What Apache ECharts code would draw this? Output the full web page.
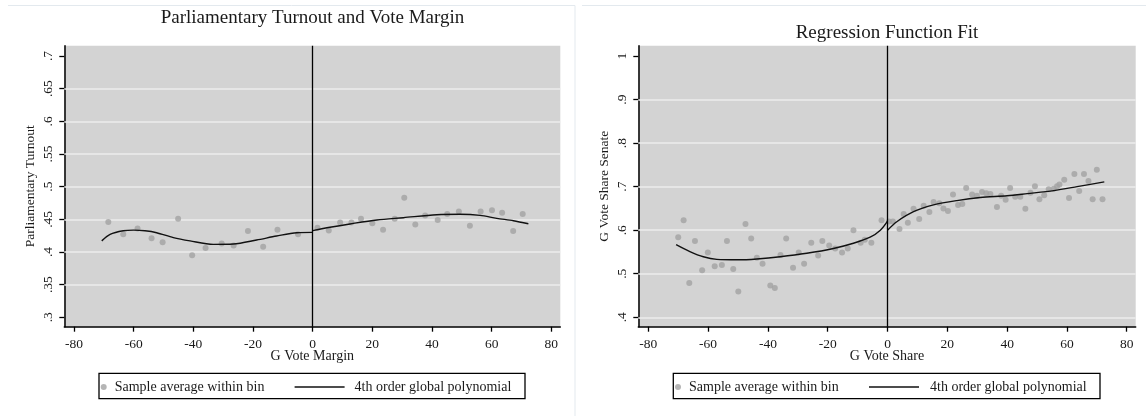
<!DOCTYPE html>
<html><head><meta charset="utf-8">
<script src="https://cdn.jsdelivr.net/npm/echarts@6/dist/echarts.min.js"></script>
<style>html,body{margin:0;padding:0;background:#fff}#c{width:1146px;height:416px}</style>
</head><body><div id="c"></div>
<script>
// ---- tick labels ----
const xTicks = [-80, -60, -40, -20, 0, 20, 40, 60, 80];
const leftYTicks = [0.3, 0.35, 0.4, 0.45, 0.5, 0.55, 0.6, 0.65, 0.7];
const leftGridVals = [0.35, 0.4, 0.45, 0.5, 0.55, 0.6, 0.65];
const rightYTicks = [0.4, 0.5, 0.6, 0.7, 0.8, 0.9, 1];
const rightGridVals = [0.4, 0.5, 0.6, 0.7, 0.8, 0.9];

// ---- texts ----
const leftTitle = 'Parliamentary Turnout and Vote Margin';
const rightTitle = 'Regression Function Fit';
const leftXName = 'G Vote Margin';
const leftYName = 'Parliamentary Turnout';
const rightXName = 'G Vote Share';
const rightYName = 'G Vote Share Senate';
const scatterName = 'Sample average within bin';
const fitName = '4th order global polynomial';

// ---- left chart data ----
const leftBinX = [-68.5,-63.5,-58.7,-54.0,-50.3,-45.1,-40.4,-35.9,-30.5,-26.5,-21.7,-16.6,-11.8,-4.9,1.6,5.4,9.2,13.0,16.2,20.0,23.6,27.5,30.7,34.4,37.7,41.9,45.1,49.0,52.7,56.3,60.1,63.5,67.2,70.4];
const leftBinY = [0.446,0.427,0.436,0.421,0.415,0.451,0.395,0.406,0.413,0.410,0.432,0.408,0.434,0.427,0.437,0.433,0.445,0.445,0.451,0.444,0.434,0.451,0.483,0.442,0.456,0.449,0.458,0.462,0.440,0.462,0.464,0.460,0.432,0.458];
const leftFitNegX = [-70.7,-67.9,-63.5,-60,-56.2,-52.3,-46.7,-41.1,-33.3,-26.6,-18.8,-12.1,-5.3,0];
const leftFitNegY = [0.417,0.427,0.4325,0.4335,0.4325,0.4295,0.422,0.417,0.4117,0.4122,0.4183,0.4244,0.4295,0.430];
const leftFitPosX = [0,5.8,12.5,21.5,30.4,41.6,49.4,56.1,61.7,67.3,72.3];
const leftFitPosY = [0.4327,0.4378,0.4429,0.449,0.4525,0.457,0.4577,0.4561,0.4515,0.4479,0.4433];

// ---- right chart data ----
const rightBinX = [-70.0,-68.2,-66.3,-64.4,-62.0,-60.1,-57.8,-55.4,-53.7,-51.6,-49.9,-47.5,-45.6,-43.7,-41.8,-39.2,-37.7,-35.8,-33.9,-31.6,-29.7,-27.9,-25.5,-23.2,-21.8,-19.5,-17.5,-15.2,-13.3,-11.4,-9.0,-7.6,-5.4,-2.0,0.5,1.8,4.0,5.4,6.8,8.7,10.6,12.1,14.0,15.4,17.3,18.7,20.2,21.9,23.6,25.0,26.3,28.3,29.9,31.6,33.0,34.4,36.6,38.0,39.5,41.0,42.7,44.4,46.1,47.8,49.3,50.8,52.4,53.9,55.6,56.7,57.5,59.1,60.7,62.5,64.1,65.7,67.2,68.6,70.0,71.9];
const rightBinY = [0.584,0.623,0.479,0.575,0.508,0.549,0.517,0.520,0.575,0.511,0.459,0.614,0.581,0.537,0.523,0.473,0.467,0.543,0.581,0.514,0.549,0.523,0.571,0.542,0.575,0.565,0.558,0.549,0.558,0.600,0.571,0.578,0.571,0.623,0.620,0.620,0.603,0.637,0.617,0.649,0.626,0.656,0.642,0.665,0.662,0.650,0.644,0.682,0.658,0.660,0.697,0.682,0.679,0.688,0.685,0.683,0.653,0.679,0.670,0.697,0.677,0.677,0.649,0.686,0.701,0.671,0.680,0.694,0.695,0.701,0.705,0.716,0.674,0.729,0.690,0.729,0.713,0.671,0.739,0.671];
const rightFitNegX = [-70.7,-66.1,-61.6,-57.1,-50,-43.7,-35.9,-27.0,-18.1,-11.4,-5.8,-2.4,0];
const rightFitNegY = [0.567,0.551,0.539,0.533,0.532,0.534,0.539,0.547,0.558,0.570,0.584,0.600,0.621];
const rightFitPosX = [0,3.1,8.7,15.4,23.2,31.0,40.0,46.7,55.6,63.4,72.5];
const rightFitPosY = [0.600,0.6195,0.6425,0.658,0.668,0.675,0.679,0.684,0.691,0.700,0.711];

const zip = (a, b) => a.map((v, i) => [v, b[i]]);
const FONT = 'Liberation Serif';
const TXT = '#1a1a1a';
const fmtY = v => (Math.abs(v - 1) < 1e-9 ? '1' : String(+v.toFixed(2)).replace(/^0/, ''));

const grids = [
  { left: 64.3, top: 45.7, width: 496, height: 281 },
  { left: 638.3, top: 45.7, width: 497.4, height: 281 }
];
const xRanges = [[-83.25, 83.0], [-83.35, 83.0]];
const yRanges = [[0.2856, 0.7158], [0.3784, 1.0237]];
const yTicksAll = [leftYTicks, rightYTicks];
const gridValsAll = [leftGridVals, rightGridVals];
const xNames = [leftXName, rightXName];
const yNames = [leftYName, rightYName];

const legendText = { fontFamily: FONT, fontSize: 14, color: TXT };

const option = {
  animation: false,
  backgroundColor: '#ffffff',
  title: [
    { text: leftTitle, left: 312.5, top: 9, textAlign: 'center', padding: 0,
      textStyle: { fontFamily: FONT, fontSize: 19, fontWeight: 'normal', color: TXT } },
    { text: rightTitle, left: 887, top: 24, textAlign: 'center', padding: 0,
      textStyle: { fontFamily: FONT, fontSize: 19, fontWeight: 'normal', color: TXT } }
  ],
  grid: grids.map(g => Object.assign({ show: true, backgroundColor: '#d3d3d3', borderWidth: 0, containLabel: false }, g)),
  xAxis: [0, 1].map(i => ({
    type: 'value', gridIndex: i, min: xRanges[i][0], max: xRanges[i][1],
    name: xNames[i], nameLocation: 'middle', nameGap: 23, nameMoveOverlap: false,
    nameTextStyle: { fontFamily: FONT, fontSize: 14, color: TXT },
    axisLine: { onZero: false, lineStyle: { color: '#000', width: 1.5 } },
    axisTick: { show: true, length: 5, customValues: xTicks, lineStyle: { color: '#000', width: 1.3 } },
    axisLabel: { customValues: xTicks, margin: 11, fontFamily: FONT, fontSize: 13.5, color: TXT },
    splitLine: { show: false }
  })),
  yAxis: [0, 1].map(i => ({
    type: 'value', gridIndex: i, min: yRanges[i][0], max: yRanges[i][1],
    name: yNames[i], nameLocation: 'middle', nameGap: 27, nameMoveOverlap: false,
    nameTextStyle: { fontFamily: FONT, fontSize: 13.5, color: TXT },
    axisLine: { onZero: false, lineStyle: { color: '#000', width: 1.5 } },
    axisTick: { show: true, length: 5, customValues: yTicksAll[i], lineStyle: { color: '#000', width: 1.3 } },
    axisLabel: { customValues: yTicksAll[i], rotate: 90, margin: 9, fontFamily: FONT, fontSize: 13.5, color: TXT, formatter: fmtY },
    splitLine: { show: false }
  })),
  legend: [
    { data: [scatterName], left: 100.7, top: 380, padding: 0, icon: 'circle', itemWidth: 12, itemHeight: 6,
      selectedMode: false, textStyle: legendText },
    { data: [fitName], left: 294.6, top: 380, padding: 0, icon: 'rect', itemWidth: 50, itemHeight: 1.4,
      selectedMode: false, textStyle: Object.assign({ padding: [0, 0, 0, 5] }, legendText) },
    { data: [scatterName], left: 675, top: 380, padding: 0, icon: 'circle', itemWidth: 12, itemHeight: 6,
      selectedMode: false, textStyle: legendText },
    { data: [fitName], left: 869, top: 380, padding: 0, icon: 'rect', itemWidth: 50, itemHeight: 1.4,
      selectedMode: false, textStyle: Object.assign({ padding: [0, 0, 0, 6] }, legendText) }
  ],
  graphic: [
    { type: 'rect', shape: { x: 99, y: 373.3, width: 426, height: 25.4 }, style: { fill: 'none', stroke: '#000', lineWidth: 1.3 }, silent: true },
    { type: 'rect', shape: { x: 673.3, y: 373.3, width: 426.7, height: 25.4 }, style: { fill: 'none', stroke: '#000', lineWidth: 1.3 }, silent: true },
    { type: 'line', shape: { x1: 8, y1: 5.5, x2: 575, y2: 5.5 }, style: { stroke: '#e3e9ee', lineWidth: 1 }, silent: true },
    { type: 'line', shape: { x1: 575, y1: 5.5, x2: 575, y2: 416 }, style: { stroke: '#e3e9ee', lineWidth: 1 }, silent: true },
    { type: 'line', shape: { x1: 582, y1: 5.5, x2: 1146, y2: 5.5 }, style: { stroke: '#e3e9ee', lineWidth: 1 }, silent: true }
  ],
  series: []
};

const scatterData = [zip(leftBinX, leftBinY), zip(rightBinX, rightBinY)];
const fitNeg = [zip(leftFitNegX, leftFitNegY), zip(rightFitNegX, rightFitNegY)];
const fitPos = [zip(leftFitPosX, leftFitPosY), zip(rightFitPosX, rightFitPosY)];

[0, 1].forEach(i => {
  option.series.push({
    type: 'line', xAxisIndex: i, yAxisIndex: i, data: [], z: 1, silent: true,
    markLine: {
      z: 1, silent: true, symbol: ['none', 'none'], label: { show: false }, emphasis: { disabled: true },
      lineStyle: { color: '#ececec', width: 1.5, type: 'solid' },
      data: gridValsAll[i].map(v => ({ yAxis: v }))
    }
  });
  option.series.push({
    type: 'scatter', name: scatterName, xAxisIndex: i, yAxisIndex: i, z: 3,
    symbol: 'circle', symbolSize: 6, itemStyle: { color: '#a2a2a2' },
    data: scatterData[i]
  });
  option.series.push({
    type: 'line', name: fitName, xAxisIndex: i, yAxisIndex: i, z: 4,
    symbol: 'none', showSymbol: false, smooth: 0.3,
    lineStyle: { color: '#111', width: 1.4 }, itemStyle: { color: '#111' },
    data: fitNeg[i],
    markLine: {
      z: 5, silent: true, symbol: ['none', 'none'], label: { show: false }, emphasis: { disabled: true },
      lineStyle: { color: '#000', width: 1.3, type: 'solid' },
      data: [{ xAxis: 0 }]
    }
  });
  option.series.push({
    type: 'line', name: fitName, xAxisIndex: i, yAxisIndex: i, z: 4,
    symbol: 'none', showSymbol: false, smooth: 0.3,
    lineStyle: { color: '#111', width: 1.4 }, itemStyle: { color: '#111' },
    data: fitPos[i]
  });
});

const chart = echarts.init(document.getElementById('c'), null, { renderer: 'canvas', width: 1146, height: 416 });
chart.setOption(option);
</script>
</body></html>
